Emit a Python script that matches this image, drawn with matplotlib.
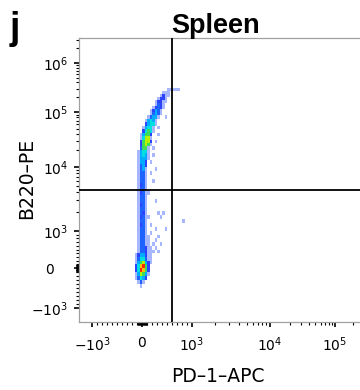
import matplotlib
matplotlib.use("Agg")
import matplotlib.pyplot as plt
import numpy as np
from matplotlib.colors import ListedColormap, BoundaryNorm
from matplotlib.ticker import FixedLocator, FixedFormatter

# ── axis decades (biexponential display) ─────────────────────────────────────
DECADES = [-1e3, 0, 1e3, 1e4, 1e5, 1e6]
X_LABELS = ["$-10^{3}$", "0", "$10^{3}$", "$10^{4}$", "$10^{5}$", ""]
Y_LABELS = ["$-10^{3}$", "0   ", "$10^{3}$", "$10^{4}$", "$10^{5}$", "$10^{6}$"]
X_PX = [92, 142, 192, 270, 335, 395]
Y_PX = [308, 268, 231, 167, 112, 63]

PD1_GATE = 600
B220_GATE = 4400

# ── event density (pseudocolour levels 1-9, '.' = no events) ─────────────────
x_edges = np.arange(-400, 901, 50)                       # PD-1-APC bins
y_edges = np.concatenate([np.arange(-600, 1000, 100),    # B220-PE bins
                          np.logspace(3, 5.5, 41)])
# rows from highest B220 bin down to lowest
density_rows = [
    "..................11111",
    "................111",
    "...............1211",
    "..............1221",
    ".............12211",
    ".............1321",
    "............12321",
    "...........12431",
    "...........13431",
    "..........13441..1",
    ".........14541",
    ".........24551",
    "........14551.1",
    "........25651",
    ".......14662..1",
    ".......15771",
    ".......26772.1",
    ".......26761",
    ".......3661.1",
    "......14551",
    "......14541.1",
    "......14441",
    "......1442.1",
    "......1342",
    "......1341...1",
    "......1331.1",
    "......1331",
    "......1331..1",
    "......1231",
    "......1331",
    "......12311",
    "......1331",
    "......1331...1",
    "......1231",
    "......1331",
    "......1321....1.1",
    "......12311....1",
    "......1331..............1",
    "......1231.1",
    "......1331...1...1",
    "......1331.1",
    "......13311...1",
    "......13311..1",
    "......13311.1..1",
    "......133211.1",
    "......1332111.1",
    ".....1244211",
    ".....1355311",
    ".....1467421",
    ".....258962",
    ".....259862",
    ".....147641",
    ".....13542",
    "......131",
    ".......1",
    "",
]
LEVEL_COLORS = ["#a6b6ff", "#2c44ff", "#1d64ff", "#00acff", "#00e0e0",
                "#3ddc5a", "#b8f000", "#ffbe00", "#ff2a00"]

nx = len(x_edges) - 1
grid = np.array([[0 if c == "." else int(c) for c in r.ljust(nx, ".")[:nx]]
                 for r in density_rows])[::-1]
grid = np.ma.masked_equal(grid, 0)


# ── biexponential-like scale: linear within ±10^3, log beyond ────────────────
T = np.array([-1, 0, 1, 2, 3, 4], float)

def to_t(v):
    v = np.asarray(v, float)
    a = np.abs(v)
    return np.where(a <= 1e3, v / 1e3,
                    np.sign(v) * (1 + np.log10(np.maximum(a, 1e3) / 1e3)))

def from_t(t):
    t = np.asarray(t, float)
    a = np.abs(t)
    return np.where(a <= 1, t * 1e3,
                    np.sign(t) * 1e3 * 10 ** (np.maximum(a, 1) - 1))

def biex(px, flip):
    p = np.array(px, float) * (-1 if flip else 1)
    tt = np.concatenate([[-4], T, [8]])
    pp = np.concatenate([[p[0] - 3 * (p[1] - p[0])], p,
                         [p[-1] + 4 * (p[-1] - p[-2])]])
    fwd = lambda v: np.interp(to_t(v), tt, pp)
    inv = lambda q: from_t(np.interp(q, pp, tt))
    return fwd, inv


W, H = 360, 390
L, R, TOP, BOT = 79, 400, 38, 322

fig = plt.figure(figsize=(W / 100, H / 100), dpi=100)
ax = fig.add_axes([L / W, (H - BOT) / H, (R - L) / W, (BOT - TOP) / H])

fx, ix = biex(X_PX, False)
fy, iy = biex(Y_PX, True)
ax.set_xscale("function", functions=(fx, ix))
ax.set_yscale("function", functions=(fy, iy))
ax.set_xlim(float(ix(L)), float(ix(R)))
ax.set_ylim(float(iy(-BOT)), float(iy(-TOP)))

cmap = ListedColormap(LEVEL_COLORS)
norm = BoundaryNorm(np.arange(0.5, 10.5, 1), cmap.N)
ax.pcolormesh(x_edges, y_edges, grid, cmap=cmap, norm=norm,
              shading="flat", edgecolors="none", antialiased=False, zorder=1)

ax.axvline(PD1_GATE, color="black", lw=1.3, zorder=3)
ax.axhline(B220_GATE, color="black", lw=1.3, zorder=3)

# ticks
lin_minor = [s * m for s in (-1, 1)
             for m in list(range(10, 100, 10)) + list(range(100, 1000, 100))]
log_minor = [m * 10 ** e for e in (3, 4, 5, 6) for m in range(2, 10)]
for axis, labels, pad in ((ax.xaxis, X_LABELS, 6), (ax.yaxis, Y_LABELS, 4)):
    axis.set_major_locator(FixedLocator(DECADES))
    axis.set_major_formatter(FixedFormatter(labels))
    axis.set_minor_locator(FixedLocator(lin_minor + log_minor))
    axis.set_tick_params(which="major", direction="out", length=3.8,
                         width=1.2, color="black", labelsize=10, pad=pad)
    axis.set_tick_params(which="minor", direction="out", length=2.2,
                         width=0.8, color="black")

for s in ("left", "bottom", "top"):
    ax.spines[s].set_color("#a0a0a0")
    ax.spines[s].set_linewidth(0.9)
ax.spines["right"].set_visible(False)

fig.text(10 / W, 1 - 39 / H, "j", fontsize=27, fontweight="bold",
         family="Liberation Sans", ha="left", va="baseline")
fig.text(216 / W, 1 - 33 / H, "Spleen", fontsize=19.5, fontweight="bold",
         family="Liberation Sans", ha="center", va="baseline")
fig.text(218 / W, 1 - 382 / H, "PD–1–APC", fontsize=13.5,
         ha="center", va="baseline")
fig.text(27 / W, 1 - 178 / H, "B220–PE", fontsize=13.5, rotation=90,
         ha="center", va="center")

fig.savefig("out.png", dpi=100)
